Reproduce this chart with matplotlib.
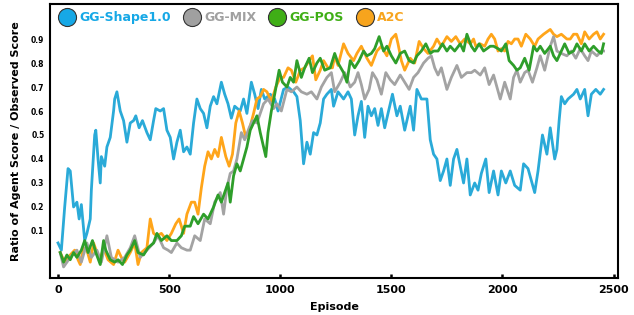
import matplotlib
matplotlib.use("Agg")
import matplotlib.pyplot as plt
from matplotlib.lines import Line2D

# series names and colours
names = ["GG-Shape1.0", "GG-MIX", "GG-POS", "A2C"]
line_colors = ["#2aaad8", "#a3a3a3", "#2e9e2a", "#ffa51a"]
legend_colors = ["#16a8e6", "#a0a0a0", "#3fae16", "#f7a41d"]

# GG-Shape1.0
shape_ep = [0, 15, 30, 45, 55, 70, 85, 95, 105, 120, 130, 145, 150, 165, 170, 180, 190, 195,
            210, 220, 235, 250, 255, 265, 280, 295, 310, 325, 340, 350, 365, 380, 400, 415,
            430, 440, 460, 475, 490, 505, 520, 535, 550, 565, 580, 595, 610, 625, 640, 655,
            670, 685, 700, 715, 735, 750, 765, 780, 795, 820, 835, 850, 870, 885, 900, 915,
            930, 955, 975, 990, 1015, 1035, 1060, 1075, 1090, 1105, 1120, 1135, 1150, 1165,
            1180, 1195, 1210, 1230, 1240, 1260, 1285, 1305, 1320, 1335, 1350, 1365, 1380,
            1395, 1410, 1425, 1440, 1455, 1470, 1485, 1505, 1525, 1540, 1560, 1585, 1600,
            1615, 1635, 1660, 1675, 1690, 1705, 1720, 1735, 1750, 1765, 1780, 1795, 1810,
            1825, 1840, 1855, 1875, 1890, 1905, 1925, 1940, 1960, 1980, 1995, 2015, 2035,
            2055, 2080, 2095, 2115, 2130, 2145, 2160, 2180, 2200, 2215, 2235, 2245, 2255,
            2265, 2280, 2295, 2320, 2335, 2350, 2370, 2385, 2400, 2420, 2440, 2455]
shape_val = [0.05, 0.02, 0.20, 0.36, 0.35, 0.20, 0.22, 0.15, 0.21, 0.06, 0.09, 0.15, 0.27,
             0.50, 0.52, 0.40, 0.30, 0.41, 0.37, 0.45, 0.49, 0.60, 0.65, 0.68, 0.60, 0.56,
             0.47, 0.55, 0.56, 0.58, 0.53, 0.56, 0.51, 0.48, 0.56, 0.61, 0.60, 0.61, 0.52,
             0.49, 0.40, 0.47, 0.52, 0.43, 0.45, 0.42, 0.55, 0.65, 0.61, 0.59, 0.53, 0.62,
             0.66, 0.63, 0.72, 0.67, 0.63, 0.57, 0.62, 0.60, 0.65, 0.59, 0.72, 0.67, 0.61,
             0.69, 0.65, 0.67, 0.65, 0.60, 0.69, 0.70, 0.68, 0.66, 0.56, 0.38, 0.47, 0.42,
             0.51, 0.50, 0.55, 0.65, 0.67, 0.69, 0.62, 0.68, 0.65, 0.68, 0.65, 0.50, 0.58,
             0.64, 0.49, 0.62, 0.58, 0.61, 0.54, 0.61, 0.53, 0.59, 0.67, 0.58, 0.62, 0.52,
             0.62, 0.52, 0.69, 0.65, 0.65, 0.48, 0.42, 0.40, 0.31, 0.35, 0.40, 0.29, 0.40,
             0.44, 0.37, 0.30, 0.40, 0.25, 0.30, 0.27, 0.34, 0.40, 0.26, 0.35, 0.25, 0.35,
             0.30, 0.35, 0.29, 0.27, 0.38, 0.36, 0.31, 0.26, 0.35, 0.50, 0.42, 0.53, 0.40,
             0.44, 0.56, 0.66, 0.63, 0.65, 0.67, 0.69, 0.65, 0.69, 0.58, 0.67, 0.69, 0.67,
             0.69]

# GG-MIX
mix_ep = [10, 25, 55, 85, 105, 130, 150, 175, 195, 220, 240, 270, 300, 325, 345, 370, 400,
          430, 450, 475, 495, 510, 535, 555, 580, 595, 615, 640, 660, 685, 705, 730, 745,
          760, 775, 790, 805, 825, 840, 860, 875, 895, 910, 925, 945, 970, 985, 1005, 1030,
          1050, 1075, 1095, 1120, 1140, 1165, 1185, 1210, 1230, 1245, 1270, 1290, 1315,
          1335, 1350, 1365, 1380, 1400, 1415, 1435, 1455, 1475, 1495, 1515, 1540, 1560,
          1580, 1600, 1620, 1645, 1665, 1680, 1695, 1710, 1725, 1750, 1770, 1795, 1815,
          1840, 1860, 1875, 1900, 1920, 1940, 1960, 1975, 1990, 2010, 2035, 2050, 2065,
          2080, 2100, 2115, 2135, 2155, 2170, 2190, 2215, 2230, 2245, 2265, 2290, 2310,
          2330, 2350, 2370, 2385, 2400, 2425, 2445, 2455]
mix_val = [0.01, -0.05, -0.01, 0.02, -0.03, 0.05, -0.01, 0.02, -0.03, 0.08, -0.01, -0.03,
           -0.01, 0.03, 0.08, -0.01, 0.02, 0.05, 0.08, 0.03, 0.02, 0.01, 0.05, 0.03, 0.02,
           0.02, 0.08, 0.06, 0.15, 0.13, 0.22, 0.26, 0.17, 0.28, 0.34, 0.35, 0.40, 0.51,
           0.48, 0.53, 0.56, 0.55, 0.59, 0.63, 0.65, 0.61, 0.63, 0.60, 0.69, 0.68, 0.70,
           0.68, 0.67, 0.68, 0.65, 0.70, 0.74, 0.76, 0.68, 0.72, 0.76, 0.70, 0.72, 0.76,
           0.71, 0.65, 0.69, 0.76, 0.73, 0.67, 0.76, 0.73, 0.71, 0.75, 0.72, 0.69, 0.74,
           0.76, 0.80, 0.82, 0.83, 0.78, 0.75, 0.78, 0.69, 0.74, 0.79, 0.74, 0.76, 0.76,
           0.77, 0.75, 0.78, 0.71, 0.75, 0.70, 0.65, 0.72, 0.65, 0.74, 0.77, 0.72, 0.76,
           0.77, 0.72, 0.78, 0.83, 0.77, 0.87, 0.91, 0.85, 0.84, 0.83, 0.85, 0.82, 0.86,
           0.83, 0.81, 0.85, 0.83, 0.85, 0.85]

# GG-POS
pos_ep = [10, 25, 40, 55, 70, 85, 105, 120, 135, 155, 170, 190, 205, 215, 235, 255, 270,
          290, 310, 325, 345, 360, 385, 405, 430, 445, 465, 490, 510, 535, 555, 570, 595,
          610, 630, 655, 675, 700, 720, 735, 750, 765, 775, 790, 805, 820, 835, 850, 865,
          880, 895, 910, 925, 935, 945, 960, 975, 995, 1010, 1030, 1045, 1060, 1075, 1095,
          1110, 1130, 1145, 1165, 1180, 1200, 1225, 1245, 1260, 1285, 1300, 1315, 1335,
          1355, 1375, 1390, 1410, 1425, 1445, 1465, 1480, 1500, 1520, 1540, 1560, 1580,
          1600, 1615, 1635, 1655, 1675, 1690, 1710, 1730, 1750, 1765, 1785, 1810, 1825,
          1840, 1860, 1875, 1895, 1915, 1945, 1960, 1980, 1995, 2015, 2030, 2050, 2065,
          2080, 2100, 2120, 2140, 2155, 2170, 2190, 2215, 2230, 2245, 2260, 2280, 2300,
          2320, 2335, 2355, 2370, 2390, 2410, 2430, 2445, 2455]
pos_val = [0.01, -0.03, 0.00, -0.02, 0.01, -0.01, 0.02, 0.06, 0.01, 0.06, 0.01, -0.04,
           0.06, 0.02, -0.02, -0.03, -0.02, -0.04, 0.00, 0.02, 0.06, 0.01, 0.00, 0.03,
           0.05, 0.09, 0.06, 0.08, 0.06, 0.06, 0.08, 0.12, 0.12, 0.16, 0.13, 0.17, 0.15,
           0.20, 0.25, 0.22, 0.26, 0.30, 0.22, 0.33, 0.38, 0.35, 0.40, 0.45, 0.52, 0.55,
           0.58, 0.51, 0.45, 0.41, 0.51, 0.60, 0.67, 0.77, 0.72, 0.70, 0.74, 0.72, 0.81,
           0.74, 0.78, 0.82, 0.76, 0.80, 0.82, 0.77, 0.78, 0.84, 0.80, 0.76, 0.72, 0.81,
           0.78, 0.81, 0.85, 0.83, 0.84, 0.86, 0.91, 0.85, 0.87, 0.83, 0.80, 0.84, 0.85,
           0.81, 0.80, 0.83, 0.85, 0.88, 0.84, 0.85, 0.85, 0.88, 0.85, 0.87, 0.85, 0.88,
           0.85, 0.92, 0.87, 0.85, 0.88, 0.85, 0.87, 0.87, 0.86, 0.85, 0.88, 0.81, 0.79,
           0.77, 0.78, 0.82, 0.77, 0.87, 0.85, 0.87, 0.84, 0.87, 0.83, 0.81, 0.84, 0.88,
           0.84, 0.85, 0.88, 0.85, 0.88, 0.85, 0.87, 0.85, 0.84, 0.88]

# A2C
a2c_ep = [10, 30, 55, 75, 90, 100, 115, 130, 145, 160, 175, 190, 205, 225, 250, 270, 285,
          300, 325, 345, 360, 375, 400, 415, 430, 445, 465, 490, 510, 530, 545, 565, 580,
          600, 615, 630, 645, 660, 675, 690, 705, 720, 735, 755, 770, 785, 800, 815, 830,
          845, 860, 880, 895, 910, 925, 940, 960, 980, 1000, 1015, 1035, 1050, 1070, 1090,
          1110, 1130, 1145, 1160, 1180, 1195, 1215, 1235, 1245, 1260, 1285, 1305, 1330,
          1345, 1365, 1390, 1410, 1435, 1455, 1480, 1500, 1520, 1530, 1545, 1560, 1585,
          1605, 1625, 1645, 1665, 1690, 1705, 1725, 1750, 1770, 1790, 1810, 1830, 1855,
          1870, 1880, 1900, 1920, 1935, 1950, 1965, 1980, 1995, 2010, 2025, 2040, 2055,
          2070, 2085, 2105, 2125, 2145, 2160, 2185, 2200, 2215, 2230, 2245, 2265, 2290,
          2305, 2320, 2335, 2355, 2370, 2390, 2410, 2425, 2440, 2455]
a2c_val = [0.01, -0.03, 0.00, 0.02, -0.02, -0.04, 0.03, 0.02, -0.03, 0.05, 0.01, -0.02,
           0.03, -0.02, -0.04, 0.02, -0.01, -0.03, 0.01, 0.05, -0.04, 0.01, 0.03, 0.15,
           0.09, 0.08, 0.09, 0.06, 0.09, 0.13, 0.15, 0.09, 0.17, 0.22, 0.22, 0.17, 0.28,
           0.37, 0.43, 0.40, 0.44, 0.41, 0.49, 0.41, 0.37, 0.42, 0.55, 0.60, 0.55, 0.49,
           0.52, 0.59, 0.65, 0.66, 0.69, 0.68, 0.64, 0.70, 0.74, 0.74, 0.78, 0.77, 0.72,
           0.77, 0.78, 0.81, 0.83, 0.73, 0.77, 0.81, 0.78, 0.78, 0.83, 0.79, 0.88, 0.84,
           0.81, 0.84, 0.87, 0.82, 0.79, 0.85, 0.87, 0.83, 0.90, 0.92, 0.88, 0.81, 0.77,
           0.82, 0.80, 0.89, 0.86, 0.84, 0.87, 0.90, 0.87, 0.91, 0.89, 0.91, 0.88, 0.90,
           0.88, 0.90, 0.87, 0.88, 0.87, 0.90, 0.92, 0.90, 0.85, 0.86, 0.85, 0.89, 0.88,
           0.90, 0.90, 0.87, 0.92, 0.90, 0.87, 0.90, 0.92, 0.93, 0.94, 0.92, 0.91, 0.92,
           0.90, 0.90, 0.92, 0.92, 0.88, 0.93, 0.90, 0.92, 0.93, 0.90, 0.92]

x_ticks = [0, 500, 1000, 1500, 2000, 2500]
y_ticks = [0.1, 0.2, 0.3, 0.4, 0.5, 0.6, 0.7, 0.8, 0.9]

plt.rcParams['font.family'] = ['DejaVu Sans']
plt.rcParams['font.weight'] = 'bold'

fig = plt.figure(figsize=(6.34, 3.15), dpi=100)
ax = fig.add_axes([0.0789, 0.1175, 0.8959, 0.8698])

lw = 2.0
ax.plot(shape_ep, shape_val, color=line_colors[0], lw=lw)
ax.plot(a2c_ep, a2c_val, color=line_colors[3], lw=lw)
ax.plot(mix_ep, mix_val, color=line_colors[1], lw=lw)
ax.plot(pos_ep, pos_val, color=line_colors[2], lw=lw)

ax.set_xlim(-36, 2520)
ax.set_ylim(-0.096, 1.046)
ax.set_xticks(x_ticks)
ax.set_yticks(y_ticks)
ax.set_yticklabels([str(v) for v in y_ticks], fontsize=5.5, fontweight='bold')
ax.set_xticklabels([str(v) for v in x_ticks], fontsize=8, fontweight='bold')
ax.tick_params(axis='x', direction='in', length=3, width=1.8, pad=5)
ax.tick_params(axis='y', length=0, pad=4)
for s in ax.spines.values():
    s.set_linewidth(1.5)

ax.set_xlabel("Episode", fontsize=8, fontweight='bold', labelpad=5)
ax.set_ylabel("Ratio of Agent Score / Observed Score", fontsize=8, fontweight='bold', labelpad=7)

handles = [Line2D([], [], marker='o', ls='none', markersize=13, markerfacecolor=c,
                  markeredgecolor='#333333', markeredgewidth=0.8) for c in legend_colors]
leg = ax.legend(handles, names, loc='upper left', bbox_to_anchor=(-0.002, 1.015), ncol=4,
                frameon=False, handletextpad=0.45, columnspacing=1.1, handlelength=1.1,
                prop={'size': 9, 'weight': 'bold'})
for t, c in zip(leg.get_texts(), legend_colors):
    t.set_color(c)

fig.savefig("out.png", dpi=100)
